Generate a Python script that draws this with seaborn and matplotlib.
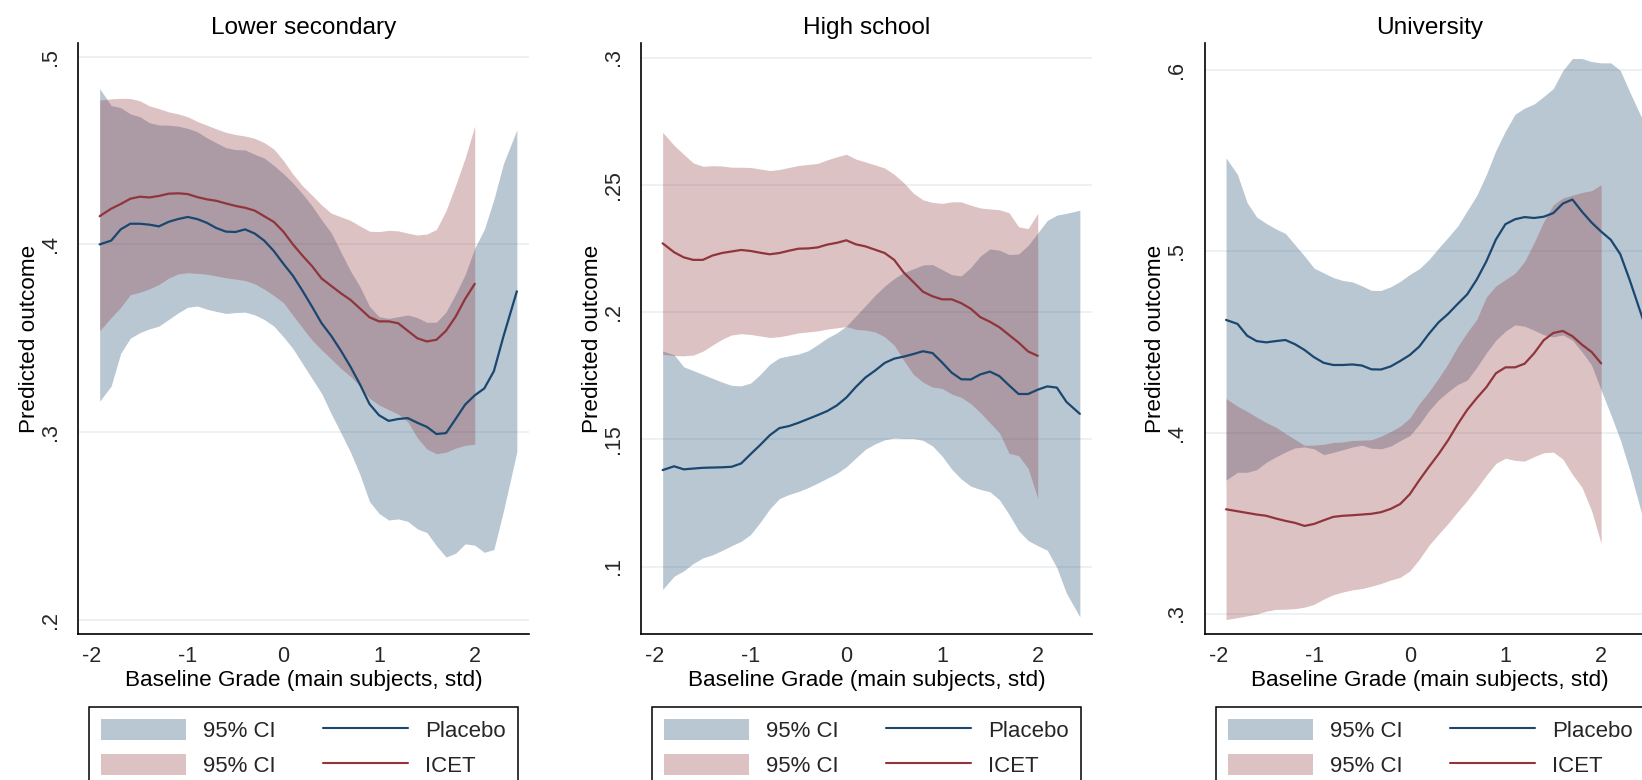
import pandas as pd
import matplotlib
matplotlib.use("Agg")
import matplotlib.pyplot as plt
import seaborn as sns
from matplotlib.patches import Patch
from matplotlib.lines import Line2D

# baseline grade grid (placebo runs to 2.44, ICET stops at 2.0)
grade = [-1.92, -1.8, -1.7, -1.6, -1.5, -1.4, -1.3, -1.2, -1.1, -1.0,
         -0.9, -0.8, -0.7, -0.6, -0.5, -0.4, -0.3, -0.2, -0.1, 0.0,
         0.1, 0.2, 0.3, 0.4, 0.5, 0.6, 0.7, 0.8, 0.9, 1.0,
         1.1, 1.2, 1.3, 1.4, 1.5, 1.6, 1.7, 1.8, 1.9, 2.0,
         2.1, 2.2, 2.3, 2.44]
grade_icet = grade[:40]

titles = ["Lower secondary", "High school", "University"]

# Lower secondary
low_pl = [0.400, 0.402, 0.408, 0.411, 0.411, 0.4105, 0.4096, 0.412, 0.4135, 0.4146,
          0.4135, 0.4115, 0.4087, 0.4068, 0.4066, 0.408, 0.4058, 0.402, 0.3965, 0.3897,
          0.3833, 0.3753, 0.3668, 0.358, 0.3513, 0.3435, 0.335, 0.3255, 0.315, 0.309,
          0.306, 0.307, 0.3075, 0.305, 0.3028, 0.299, 0.2995, 0.307, 0.3147, 0.3196,
          0.3233, 0.3325, 0.351, 0.375]
low_pl_hi = [0.483, 0.474, 0.4728, 0.4695, 0.468, 0.4648, 0.4636, 0.4635, 0.463, 0.4618,
             0.460, 0.4568, 0.4541, 0.4515, 0.4505, 0.4503, 0.448, 0.446, 0.442, 0.4377,
             0.4327, 0.4269, 0.4205, 0.413, 0.4062, 0.396, 0.386, 0.3775, 0.367, 0.3615,
             0.3606, 0.3615, 0.3624, 0.361, 0.3585, 0.3586, 0.364, 0.3735, 0.384, 0.398,
             0.408, 0.424, 0.443, 0.461]
low_pl_lo = [0.3165, 0.3245, 0.342, 0.350, 0.353, 0.355, 0.3565, 0.360, 0.3635, 0.3665,
             0.3672, 0.3655, 0.3643, 0.3632, 0.3637, 0.3639, 0.3625, 0.360, 0.3565, 0.3508,
             0.3445, 0.3365, 0.3285, 0.3206, 0.3098, 0.2998, 0.2895, 0.2775, 0.263, 0.2567,
             0.2532, 0.2538, 0.2525, 0.2485, 0.2465, 0.2395, 0.2335, 0.2355, 0.2405, 0.2398,
             0.236, 0.2375, 0.258, 0.2895]
low_ic = [0.415, 0.419, 0.4215, 0.4243, 0.4254, 0.425, 0.4258, 0.427, 0.4272, 0.4268,
          0.4252, 0.424, 0.4232, 0.4218, 0.4205, 0.4195, 0.418, 0.415, 0.412, 0.4068,
          0.400, 0.394, 0.3884, 0.3818, 0.3779, 0.374, 0.3705, 0.3659, 0.3612, 0.359,
          0.359, 0.358, 0.354, 0.350, 0.3483, 0.3492, 0.354, 0.3615, 0.371, 0.379]
low_ic_hi = [0.4769, 0.4775, 0.4778, 0.4777, 0.4765, 0.4738, 0.4723, 0.4706, 0.4695, 0.468,
             0.4655, 0.4635, 0.4615, 0.4597, 0.4585, 0.4577, 0.4565, 0.4542, 0.4508, 0.4447,
             0.4374, 0.4312, 0.4262, 0.421, 0.4166, 0.4147, 0.4128, 0.4098, 0.407, 0.4068,
             0.4075, 0.4072, 0.406, 0.405, 0.4055, 0.408, 0.418, 0.4315, 0.446, 0.463]
low_ic_lo = [0.354, 0.361, 0.3665, 0.3732, 0.3745, 0.3763, 0.3787, 0.382, 0.3843, 0.3849,
             0.3846, 0.3841, 0.3832, 0.3822, 0.3815, 0.3808, 0.379, 0.3762, 0.3728, 0.369,
             0.3622, 0.3555, 0.349, 0.3438, 0.339, 0.334, 0.3298, 0.3245, 0.318, 0.3145,
             0.312, 0.3096, 0.3055, 0.297, 0.291, 0.2885, 0.2893, 0.2915, 0.293, 0.2936]

# High school
high_pl = [0.1379, 0.1394, 0.1382, 0.1385, 0.1388, 0.1389, 0.139, 0.1392, 0.1405, 0.1442,
           0.1478, 0.1516, 0.1544, 0.1552, 0.1565, 0.158, 0.1595, 0.1611, 0.1633, 0.1664,
           0.1706, 0.1743, 0.177, 0.180, 0.1817, 0.1825, 0.1835, 0.1846, 0.1839, 0.1802,
           0.1762, 0.1736, 0.1735, 0.1755, 0.1766, 0.1748, 0.1712, 0.1678, 0.1678, 0.1695,
           0.1708, 0.1703, 0.1647, 0.160]
high_pl_hi = [0.1847, 0.1832, 0.1785, 0.177, 0.1755, 0.174, 0.1725, 0.1712, 0.171, 0.1721,
              0.1755, 0.1795, 0.182, 0.1828, 0.1835, 0.1848, 0.1872, 0.1898, 0.1918, 0.1945,
              0.1985, 0.2025, 0.2066, 0.2102, 0.2132, 0.2155, 0.217, 0.2185, 0.2187, 0.2167,
              0.2147, 0.2142, 0.2175, 0.222, 0.2248, 0.2243, 0.2226, 0.2228, 0.2262, 0.2311,
              0.236, 0.2381, 0.2388, 0.240]
high_pl_lo = [0.091, 0.0962, 0.0983, 0.1012, 0.1034, 0.1046, 0.1063, 0.1082, 0.1099, 0.1126,
              0.1174, 0.1227, 0.1267, 0.1283, 0.1295, 0.131, 0.1328, 0.1347, 0.1366, 0.1392,
              0.1427, 0.1461, 0.1482, 0.1498, 0.1505, 0.1503, 0.1503, 0.1496, 0.1474, 0.1434,
              0.1383, 0.1344, 0.1316, 0.1303, 0.1294, 0.1262, 0.1205, 0.1141, 0.1102, 0.1082,
              0.1064, 0.0995, 0.0895, 0.0802]
high_ic = [0.227, 0.2235, 0.2215, 0.2205, 0.2205, 0.2222, 0.2232, 0.2238, 0.2244, 0.224,
           0.2233, 0.2227, 0.2232, 0.2241, 0.2249, 0.225, 0.2254, 0.2265, 0.2272, 0.2282,
           0.2266, 0.2258, 0.2245, 0.2232, 0.2205, 0.2155, 0.2118, 0.208, 0.2062, 0.205,
           0.205, 0.2035, 0.2013, 0.198, 0.1962, 0.194, 0.191, 0.188, 0.1845, 0.1828]
high_ic_hi = [0.2706, 0.2655, 0.262, 0.2586, 0.2573, 0.2575, 0.2574, 0.2569, 0.2569, 0.2568,
              0.2562, 0.2556, 0.256, 0.2568, 0.2576, 0.258, 0.2584, 0.2598, 0.261, 0.262,
              0.2601, 0.259, 0.2578, 0.2566, 0.2541, 0.2508, 0.2467, 0.2441, 0.2431, 0.2427,
              0.2433, 0.2433, 0.242, 0.2409, 0.2405, 0.2402, 0.239, 0.2335, 0.2328, 0.2388]
high_ic_lo = [0.1834, 0.1829, 0.1828, 0.1831, 0.1846, 0.187, 0.1893, 0.191, 0.1915, 0.1912,
              0.1906, 0.19, 0.1903, 0.191, 0.1918, 0.1922, 0.1926, 0.1933, 0.1938, 0.1943,
              0.1932, 0.1929, 0.1922, 0.1903, 0.187, 0.181, 0.1755, 0.1725, 0.1705, 0.170,
              0.1678, 0.1665, 0.164, 0.1605, 0.1565, 0.1525, 0.1445, 0.1436, 0.1385, 0.1268]

# University
uni_pl = [0.4622, 0.460, 0.4535, 0.4505, 0.4498, 0.4505, 0.4511, 0.4488, 0.4456, 0.4416,
          0.4385, 0.4373, 0.4373, 0.4376, 0.437, 0.4349, 0.4348, 0.4365, 0.4395, 0.4428,
          0.4475, 0.4545, 0.4608, 0.4655, 0.471, 0.4763, 0.4845, 0.4945, 0.5066, 0.5151,
          0.5178, 0.519, 0.5185, 0.5192, 0.5212, 0.5265, 0.5287, 0.522, 0.516, 0.511,
          0.5065, 0.4985, 0.484, 0.462]
uni_pl_hi = [0.5517, 0.5425, 0.527, 0.519, 0.5155, 0.5125, 0.510, 0.5037, 0.4975, 0.4908,
             0.4882, 0.4856, 0.484, 0.4832, 0.481, 0.4785, 0.4785, 0.4805, 0.4835, 0.4873,
             0.4905, 0.4955, 0.5018, 0.5078, 0.514, 0.5225, 0.531, 0.5425, 0.5558, 0.5666,
             0.5758, 0.5792, 0.5815, 0.5856, 0.590, 0.600, 0.6066, 0.6066, 0.6049, 0.6042,
             0.6042, 0.600, 0.588, 0.572]
uni_pl_lo = [0.3737, 0.378, 0.378, 0.3795, 0.3835, 0.3865, 0.3892, 0.3915, 0.392, 0.391,
             0.3878, 0.389, 0.3905, 0.392, 0.393, 0.3913, 0.391, 0.3925, 0.3955, 0.3983,
             0.4045, 0.412, 0.418, 0.4225, 0.4265, 0.429, 0.436, 0.444, 0.451, 0.456,
             0.4595, 0.4587, 0.4565, 0.454, 0.4528, 0.4539, 0.451, 0.4445, 0.4372, 0.4234,
             0.41, 0.396, 0.379, 0.352]
uni_ic = [0.3576, 0.3565, 0.3556, 0.3547, 0.354, 0.3525, 0.3512, 0.3501, 0.3484, 0.3495,
          0.3515, 0.3534, 0.354, 0.3543, 0.3547, 0.3551, 0.356, 0.3578, 0.3605, 0.3659,
          0.3737, 0.381, 0.388, 0.3957, 0.4045, 0.4125, 0.419, 0.425, 0.4327, 0.436,
          0.436, 0.438, 0.4438, 0.451, 0.455, 0.4561, 0.4532, 0.4485, 0.4445, 0.4382]
uni_ic_hi = [0.4188, 0.4145, 0.4117, 0.4085, 0.4055, 0.403, 0.3995, 0.3962, 0.393, 0.393,
             0.3935, 0.3945, 0.3948, 0.3956, 0.3958, 0.396, 0.398, 0.4005, 0.4035, 0.408,
             0.416, 0.4225, 0.430, 0.438, 0.4474, 0.4553, 0.4625, 0.4748, 0.481, 0.4845,
             0.488, 0.4945, 0.505, 0.5165, 0.5258, 0.5296, 0.5311, 0.5326, 0.5336, 0.5369]
uni_ic_lo = [0.2967, 0.2977, 0.2987, 0.2997, 0.3013, 0.3023, 0.3024, 0.3027, 0.3035, 0.3051,
             0.308, 0.3104, 0.3119, 0.3131, 0.3138, 0.3151, 0.3166, 0.3185, 0.320, 0.3235,
             0.330, 0.3377, 0.3438, 0.3497, 0.3562, 0.3624, 0.3692, 0.3764, 0.3829, 0.3858,
             0.3846, 0.3842, 0.3867, 0.3888, 0.3892, 0.3853, 0.3768, 0.3697, 0.3568, 0.3387]

yticks = [[0.2, 0.3, 0.4, 0.5], [0.1, 0.15, 0.2, 0.25, 0.3], [0.3, 0.4, 0.5, 0.6]]
ytick_labels = [[".2", ".3", ".4", ".5"], [".1", ".15", ".2", ".25", ".3"], [".3", ".4", ".5", ".6"]]
ylims = [(0.1925, 0.5071), (0.0735, 0.3056), (0.2887, 0.615)]
xticks = [-2, -1, 0, 1, 2]

NAVY = "#1A476F"
MAROON = "#90353B"

sns.set_theme(style="white")
plt.rcParams["font.family"] = ["Liberation Sans", "DejaVu Sans"]

panels = [
    (low_pl, low_pl_hi, low_pl_lo, low_ic, low_ic_hi, low_ic_lo),
    (high_pl, high_pl_hi, high_pl_lo, high_ic, high_ic_hi, high_ic_lo),
    (uni_pl, uni_pl_hi, uni_pl_lo, uni_ic, uni_ic_hi, uni_ic_lo),
]

fig = plt.figure(figsize=(16.42, 7.80), dpi=100, facecolor="white")
lefts = [78.3, 641.3, 1204.7]
W, H = 1642.0, 780.0

for i, (pl, pl_hi, pl_lo, ic, ic_hi, ic_lo) in enumerate(panels):
    ax = fig.add_axes([lefts[i] / W, (H - 634) / H, 450.7 / W, 590.7 / H])
    df_pl = pd.DataFrame({"grade": grade, "pred": pl, "hi": pl_hi, "lo": pl_lo})
    df_ic = pd.DataFrame({"grade": grade_icet, "pred": ic, "hi": ic_hi, "lo": ic_lo})

    ax.fill_between(df_pl["grade"], df_pl["lo"], df_pl["hi"], color=NAVY, alpha=0.3, lw=0, zorder=2)
    ax.fill_between(df_ic["grade"], df_ic["lo"], df_ic["hi"], color=MAROON, alpha=0.3, lw=0, zorder=2)
    sns.lineplot(data=df_pl, x="grade", y="pred", ax=ax, color=NAVY, linewidth=1.6, zorder=3)
    sns.lineplot(data=df_ic, x="grade", y="pred", ax=ax, color=MAROON, linewidth=1.6, zorder=3)

    ax.set_xlim(-2.143, 2.567)
    ax.set_ylim(*ylims[i])
    ax.set_xticks(xticks)
    ax.set_xticklabels([str(t) for t in xticks], fontsize=15.5)
    ax.set_yticks(yticks[i])
    ax.set_yticklabels(ytick_labels[i], fontsize=15.5, rotation=90, va="center")
    ax.tick_params(axis="x", length=6.5, width=1.0, pad=2.2, color="black")
    ax.tick_params(axis="y", length=6.5, width=1.0, pad=6.0, color="black")
    ax.yaxis.grid(True, color="#EAF1F3", linewidth=1.3, zorder=0)
    ax.xaxis.grid(False)
    ax.set_axisbelow(True)
    for side in ["top", "right"]:
        ax.spines[side].set_visible(False)
    for side in ["left", "bottom"]:
        ax.spines[side].set_color("black")
        ax.spines[side].set_linewidth(1.2)

    ax.set_title(titles[i], fontsize=17.6, pad=7, color="black")
    ax.set_xlabel("Baseline Grade (main subjects, std)", fontsize=16.2, color="black")
    ax.xaxis.set_label_coords(0.5, -0.0605)
    ax.set_ylabel("Predicted outcome", fontsize=16.2, color="black")
    ax.yaxis.set_label_coords(-0.0856, 0.5)

    handles = [Patch(facecolor=NAVY, alpha=0.3, edgecolor="none"),
               Patch(facecolor=MAROON, alpha=0.3, edgecolor="none"),
               Line2D([0], [0], color=NAVY, lw=1.5),
               Line2D([0], [0], color=MAROON, lw=1.5)]
    labels = ["95% CI", "95% CI", "Placebo", "ICET"]
    leg = ax.legend(handles, labels, loc="upper center", bbox_to_anchor=(0.5, -0.124),
                    ncol=2, fontsize=16, handlelength=3.83, handleheight=1.1,
                    handletextpad=0.77, columnspacing=2.12, labelspacing=0.52,
                    borderpad=0.53, borderaxespad=0, frameon=True, fancybox=False,
                    shadow=False, framealpha=1)
    leg.get_frame().set_edgecolor("black")
    leg.get_frame().set_linewidth(1.1)

fig.savefig("out.png", dpi=100, facecolor="white")
